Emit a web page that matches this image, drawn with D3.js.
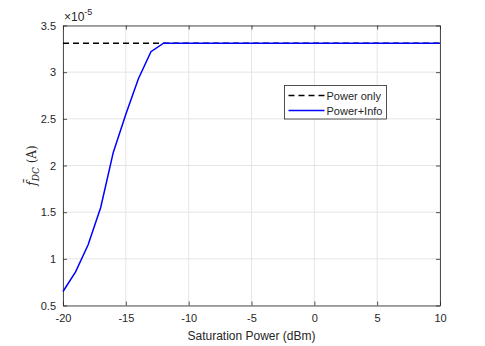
<!DOCTYPE html>
<html>
<head>
<meta charset="utf-8">
<script src="https://cdn.jsdelivr.net/npm/d3@7"></script>
<style>
  body { margin: 0; background: #fff; }
  svg { display: block; }
  text { font-family: "Liberation Sans", Arial, sans-serif; }
</style>
</head>
<body>
<svg id="chart" width="485" height="346"></svg>
<script>
// saturation power (dBm)
const sat_power = [-20, -19, -18, -17, -16, -15, -14, -13, -12, -11, -10, -9, -8, -7, -6, -5, -4, -3, -2, -1, 0, 1, 2, 3, 4, 5, 6, 7, 8, 9, 10];
// Power+Info, in units of 1e-5 A
const power_info = [0.65, 0.86, 1.15, 1.55, 2.14, 2.55, 2.93, 3.22, 3.31, 3.31, 3.31, 3.31, 3.31, 3.31, 3.31, 3.31, 3.31, 3.31, 3.31, 3.31, 3.31, 3.31, 3.31, 3.31, 3.31, 3.31, 3.31, 3.31, 3.31, 3.31, 3.31];
// Power only, in units of 1e-5 A
const power_only_x = [-20, 10];
const power_only = [3.31, 3.31];

const x_ticks = [-20, -15, -10, -5, 0, 5, 10];
const y_ticks = [0.5, 1, 1.5, 2, 2.5, 3, 3.5];

const margin = { top: 25.5, bottom: 40.5, left: 63, right: 45 };
const width = 485, height = 346;

const svg = d3.select('#chart');

const xScale = d3.scaleLinear().domain([-20, 10]).range([margin.left, width - margin.right]);
const yScale = d3.scaleLinear().domain([0.5, 3.5]).range([height - margin.bottom, margin.top]);

const axis_col = '#262626';
const x0 = xScale.range()[0], x1 = xScale.range()[1];
const y0 = yScale.range()[0], y1 = yScale.range()[1];

/**
 * Grid lines
 */
svg.append('g')
  .selectAll('line')
  .data(x_ticks)
  .join('line')
  .attr('x1', (d) => xScale(d)).attr('x2', (d) => xScale(d))
  .attr('y1', y0).attr('y2', y1)
  .attr('stroke', '#e5e5e5').attr('stroke-width', 1);

svg.append('g')
  .selectAll('line')
  .data(y_ticks)
  .join('line')
  .attr('x1', x0).attr('x2', x1)
  .attr('y1', (d) => yScale(d)).attr('y2', (d) => yScale(d))
  .attr('stroke', '#e5e5e5').attr('stroke-width', 1);

/**
 * Axes (ticks point inward, box on all sides)
 */
const plain = (d) => String(d);
const x_axis = d3.axisBottom(xScale).tickValues(x_ticks).tickFormat(plain).tickSizeInner(-4).tickSizeOuter(0).tickPadding(9);
svg.append('g').attr('transform', `translate(0,${y0})`).call(x_axis);
const y_axis = d3.axisLeft(yScale).tickValues(y_ticks).tickFormat(plain).tickSizeInner(-4).tickSizeOuter(0).tickPadding(7);
svg.append('g').attr('transform', `translate(${x0},0)`).call(y_axis);
svg.append('g').attr('transform', `translate(0,${y1})`)
  .call(d3.axisTop(xScale).tickValues(x_ticks).tickSizeInner(-4).tickSizeOuter(0).tickFormat(''));
svg.append('g').attr('transform', `translate(${x1},0)`)
  .call(d3.axisRight(yScale).tickValues(y_ticks).tickSizeInner(-4).tickSizeOuter(0).tickFormat(''));

svg.selectAll('.domain').attr('stroke', axis_col).attr('stroke-width', 0.8);
svg.selectAll('.tick line').attr('stroke', axis_col).attr('stroke-width', 0.8);
svg.selectAll('.tick text').attr('fill', axis_col).style('font-size', '11px')
  .style('font-family', '"Liberation Sans", Arial, sans-serif');

/**
 * Data lines
 */
const line = d3.line().x((d) => xScale(d[0])).y((d) => yScale(d[1]));

svg.append('path')
  .datum(d3.zip(power_only_x, power_only))
  .attr('d', line)
  .attr('fill', 'none')
  .attr('stroke', '#000')
  .attr('stroke-width', 1.5)
  .attr('stroke-dasharray', '6,4');

svg.append('path')
  .datum(d3.zip(sat_power, power_info))
  .attr('d', line)
  .attr('fill', 'none')
  .attr('stroke', '#0000ff')
  .attr('stroke-width', 1.5);

/**
 * Exponent label
 */
const expo = svg.append('text')
  .attr('x', x0 + 1).attr('y', 21)
  .attr('fill', axis_col)
  .style('font-size', '12px');
expo.append('tspan').text('\u00d710');
expo.append('tspan').attr('dy', -6).style('font-size', '9px').text('-5');

/**
 * Axis labels
 */
svg.append('text')
  .attr('x', (x0 + x1) / 2)
  .attr('y', 340)
  .attr('text-anchor', 'middle')
  .attr('fill', axis_col)
  .style('font-size', '12px')
  .text('Saturation Power (dBm)');

const ylab = svg.append('text')
  .attr('transform', `translate(36,${(y0 + y1) / 2}) rotate(-90)`)
  .attr('text-anchor', 'middle')
  .attr('fill', axis_col)
  .style('font-family', '"DejaVu Serif", "Liberation Serif", serif')
  .style('font-size', '12px');
ylab.append('tspan').style('font-style', 'italic').text('f\u0304');
ylab.append('tspan').attr('dy', 3).style('font-style', 'italic').style('font-size', '9px').text('DC');
ylab.append('tspan').attr('dy', -3).text(' (A)');

/**
 * Legend
 */
const legend_items = ['Power only', 'Power+Info'];
const legend = svg.append('g').attr('transform', 'translate(284.5,85.5)');
legend.append('rect')
  .attr('width', 102).attr('height', 33.5)
  .attr('fill', '#fff').attr('stroke', axis_col).attr('stroke-width', 0.8);

const rows = legend.selectAll('.row')
  .data(legend_items)
  .join('g')
  .attr('class', 'row')
  .attr('transform', (d, i) => `translate(0,${10 + i * 15})`);

rows.append('line')
  .attr('x1', 4).attr('x2', 40)
  .attr('stroke', (d, i) => (i === 0 ? '#000' : '#0000ff'))
  .attr('stroke-width', 1.5)
  .attr('stroke-dasharray', (d, i) => (i === 0 ? '6,4' : null));

rows.append('text')
  .attr('x', 42)
  .attr('y', 4)
  .attr('fill', axis_col)
  .style('font-size', '11px')
  .text((d) => d);
</script>
</body>
</html>
